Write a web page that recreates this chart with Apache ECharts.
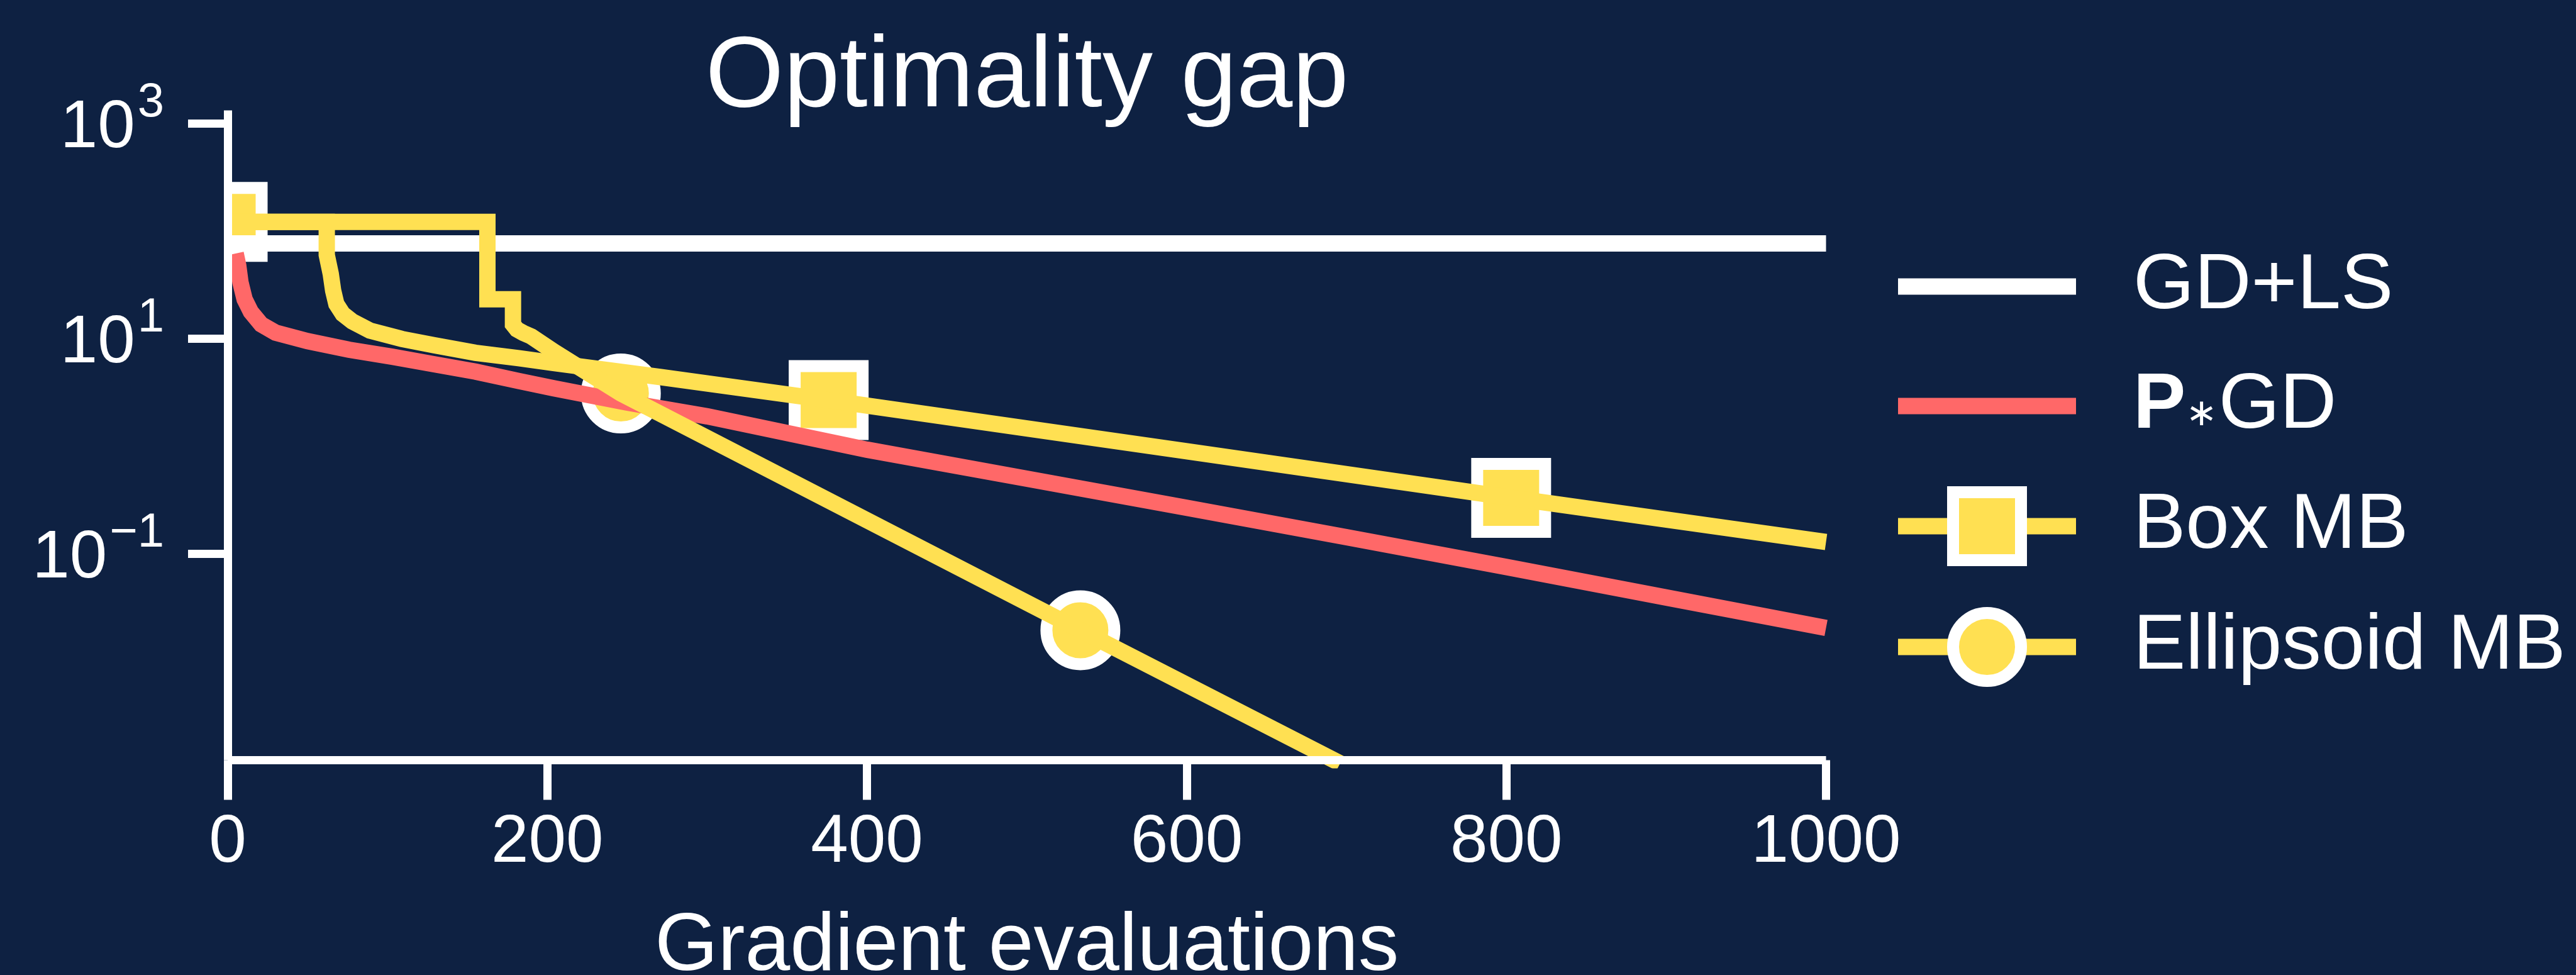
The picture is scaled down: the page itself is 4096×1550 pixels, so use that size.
<!DOCTYPE html>
<html>
<head>
<meta charset="utf-8">
<title>Optimality gap</title>
<script src="https://cdn.jsdelivr.net/npm/echarts@6.0.0/dist/echarts.min.js"></script>
<style>
html,body{margin:0;padding:0;background:#0e2142;}
#chart{width:4096px;height:1550px;}
</style>
</head>
<body>
<div id="chart"></div>
<script>
// values (x = gradient evaluations, y = optimality gap)
var gdlsX = [0, 1000];
var gdlsY = [77, 77];

var pgdX = [5, 6.6, 8, 10.6, 14.5, 21, 30, 50, 76, 103, 129, 155, 182, 204, 250, 300, 400, 500, 600, 700, 800, 900, 1000];
var pgdY = [62, 48, 33.5, 23.3, 17.8, 13.6, 11.4, 9.5, 7.9, 6.8, 5.8, 4.95, 4.05, 3.46, 2.55, 1.9, 0.93, 0.5, 0.268, 0.143, 0.0755, 0.0393, 0.0205];

var boxX = [0, 62, 62, 64.5, 66, 68, 72, 78, 89, 109, 129, 155, 182, 204, 271, 376, 600, 803, 1000];
var boxY = [122, 122, 60, 40, 28, 21, 17, 14.5, 11.9, 9.95, 8.7, 7.4, 6.6, 5.95, 4.4, 2.69, 0.9, 0.332, 0.129];
var boxMarkX = [0, 376, 803];
var boxMarkY = [122, 2.69, 0.332];

var ellX = [0, 162.5, 162.5, 178.5, 178.5, 181, 185, 190, 204, 246, 533.5, 696];
var ellY = [122, 122, 23.3, 23.3, 13.6, 12.2, 11.3, 10.5, 7.6, 3.1, 0.0195, 0.00113];
var ellMarkX = [246, 533.5];
var ellMarkY = [3.1, 0.0195];

var xTicks = {min: 0, max: 1000, step: 200};
var yTicks = [0.1, 10, 1000];
var yRange = [0.001208, 1327];

var names = ['GD+LS', 'P*GD', 'Box MB', 'Ellipsoid MB'];

// look
var BG = '#0e2142';
var WHITE = '#ffffff';
var RED = '#ff6868';
var YELLOW = '#ffe052';
var FONT = 'Liberation Sans, Arial, Helvetica, sans-serif';
var LW = 26;        // data line width
var AXW = 13;       // spine / tick width
var MARK = 108;     // marker size
var MARKB = 19;     // marker border

function pairs(xs, ys){
	var out = [];
	for(var i = 0; i < xs.length; i++){
		out.push([xs[i], ys[i]]);
	}
	return out;
}

var markerData = [];
for(var i = 0; i < boxMarkX.length; i++){
	markerData.push([boxMarkX[i], boxMarkY[i], 0]);
}
for(var j = 0; j < ellMarkX.length; j++){
	markerData.push([ellMarkX[j], ellMarkY[j], 1]);
}

// 10^n labels with a raised exponent
function powLabel(v){
	var e = Math.round(Math.log(v) / Math.LN10);
	var s = e < 0 ? '\u2212' + (-e) : '' + e;
	return '{b|10}{s|' + s + '}';
}

function lineSeries(name, data, color, symbol){
	return {
		name: name,
		type: 'line',
		data: data,
		showSymbol: false,
		symbol: symbol || 'none',
		symbolSize: MARK,
		clip: true,
		silent: true,
		z: 2,
		lineStyle: {color: color, width: LW, cap: 'butt', join: 'miter'},
		itemStyle: {color: color, borderColor: WHITE, borderWidth: MARKB},
		emphasis: {disabled: true}
	};
}

var chart = echarts.init(document.getElementById('chart'), null, {renderer: 'canvas'});

var option = {
	backgroundColor: BG,
	animation: false,
	title: {
		text: 'Optimality gap',
		left: 1633,
		top: 45,
		padding: 0,
		textAlign: 'center',
		textVerticalAlign: 'top',
		textStyle: {color: WHITE, fontSize: 160, fontWeight: 'normal', fontFamily: FONT}
	},
	grid: {
		left: 362,
		top: 175.5,
		width: 2541.5,
		height: 1033,
		containLabel: false,
		outerBoundsMode: 'none'
	},
	legend: {
		orient: 'vertical',
		left: 3005,
		top: 393,
		itemWidth: 283,
		itemHeight: 135,
		itemGap: 65,
		selectedMode: false,
		padding: 0,
		textStyle: {
			color: WHITE,
			fontSize: 125,
			fontFamily: FONT,
			padding: [0, 0, 0, 86],
			rich: {
				b: {color: WHITE, fontSize: 125, fontWeight: 'bold', fontFamily: FONT},
				a: {color: WHITE, fontSize: 60, fontFamily: 'DejaVu Sans', padding: [30, 2, 0, 0]},
				n: {color: WHITE, fontSize: 125, fontFamily: FONT}
			}
		},
		formatter: function(name){
			if(name == 'P*GD'){
				return '{b|P}{a|\u2217}{n|GD}';
			}
			return name;
		},
		data: [
			{name: names[0], icon: 'path://M0 0H283V26H0Z', itemStyle: {color: WHITE, borderWidth: 0}},
			{name: names[1], icon: 'path://M0 0H283V26H0Z', itemStyle: {color: RED, borderWidth: 0}},
			{name: names[2], itemStyle: {color: YELLOW, borderColor: WHITE, borderWidth: MARKB}, lineStyle: {color: YELLOW, width: LW}},
			{name: names[3], itemStyle: {color: YELLOW, borderColor: WHITE, borderWidth: MARKB}, lineStyle: {color: YELLOW, width: LW}}
		]
	},
	xAxis: {
		type: 'value',
		min: xTicks.min,
		max: xTicks.max,
		interval: xTicks.step,
		z: 3,
		axisLine: {show: true, onZero: false, lineStyle: {color: WHITE, width: AXW, cap: 'butt'}},
		axisTick: {show: true, length: 63, lineStyle: {color: WHITE, width: AXW}},
		axisLabel: {
			color: WHITE, fontSize: 107, fontFamily: FONT, margin: 78,
			formatter: function(v){ return String(v); }
		},
		splitLine: {show: false},
		name: 'Gradient evaluations',
		nameLocation: 'middle',
		nameGap: 233,
		nameTextStyle: {color: WHITE, fontSize: 129, fontFamily: FONT}
	},
	yAxis: {
		type: 'log',
		logBase: 10,
		min: yRange[0],
		max: yRange[1],
		z: 3,
		axisLine: {show: true, onZero: false, lineStyle: {color: WHITE, width: AXW, cap: 'butt'}},
		axisTick: {show: true, length: 63, lineStyle: {color: WHITE, width: AXW}, customValues: yTicks},
		axisLabel: {
			margin: 101,
			customValues: yTicks,
			formatter: powLabel,
			rich: {
				b: {color: WHITE, fontSize: 107, fontFamily: FONT, padding: [15, 0, 0, 0]},
				s: {color: WHITE, fontSize: 76, fontFamily: FONT, padding: [0, 0, 64, 4]}
			}
		},
		splitLine: {show: false},
		minorTick: {show: false}
	},
	series: [
		lineSeries(names[0], pairs(gdlsX, gdlsY), WHITE),
		lineSeries(names[1], pairs(pgdX, pgdY), RED),
		lineSeries(names[2], pairs(boxX, boxY), YELLOW, 'rect'),
		lineSeries(names[3], pairs(ellX, ellY), YELLOW, 'circle'),
		{
			name: 'markers',
			type: 'custom',
			clip: true,
			silent: true,
			z: 2,
			encode: {x: 0, y: 1},
			data: markerData,
			renderItem: function(params, api){
				var p = api.coord([api.value(0), api.value(1)]);
				var st = {fill: YELLOW, stroke: WHITE, lineWidth: MARKB};
				if(api.value(2) == 0){
					return {type: 'rect', shape: {x: p[0] - MARK / 2, y: p[1] - MARK / 2, width: MARK, height: MARK}, style: st};
				}
				return {type: 'circle', shape: {cx: p[0], cy: p[1], r: MARK / 2}, style: st};
			}
		}
	]
};

chart.setOption(option);
</script>
</body>
</html>
